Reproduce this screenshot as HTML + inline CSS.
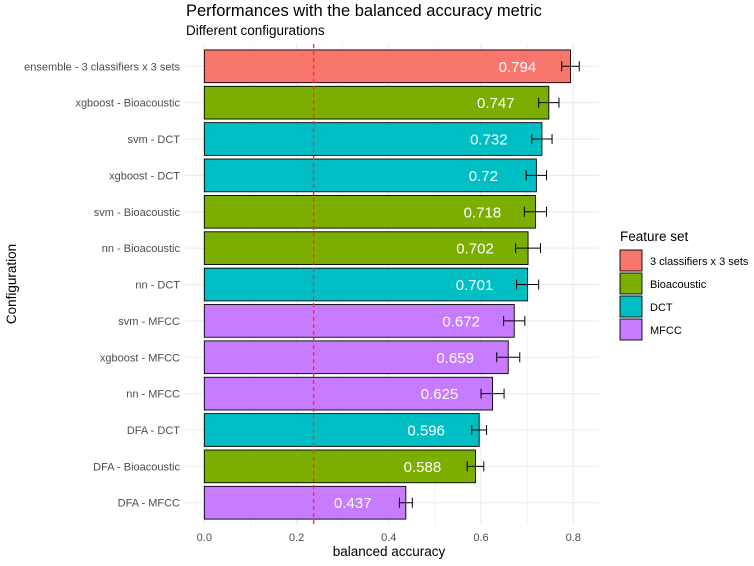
<!DOCTYPE html>
<html><head><meta charset="utf-8"><style>
body{margin:0;background:#fff;}
svg text{font-family:"Liberation Sans",Arial,sans-serif;}
</style></head><body>
<svg id="c" width="754" height="561" xmlns="http://www.w3.org/2000/svg">
<text x="186" y="16" font-size="16.5" fill="#000">Performances with the balanced accuracy metric</text>
<text x="186" y="35" font-size="13.5" fill="#000">Different configurations</text>
<g id="grid"></g><g id="bars"></g><g id="labels"></g>
<text x="389" y="556" font-size="13.5" text-anchor="middle" fill="#000">balanced accuracy</text>
<text transform="translate(16,284) rotate(-90)" font-size="13.5" text-anchor="middle" fill="#000">Configuration</text>
<text x="620" y="241" font-size="13.5" fill="#000">Feature set</text>
<g id="legend"></g>
</svg>
<script>
const categories=["ensemble - 3 classifiers x 3 sets","xgboost - Bioacoustic","svm - DCT","xgboost - DCT","svm - Bioacoustic","nn - Bioacoustic","nn - DCT","svm - MFCC","xgboost - MFCC","nn - MFCC","DFA - DCT","DFA - Bioacoustic","DFA - MFCC"];
const values=[0.794,0.747,0.732,0.72,0.718,0.702,0.701,0.672,0.659,0.625,0.596,0.588,0.437];
const errors=[0.019,0.022,0.022,0.022,0.024,0.027,0.024,0.023,0.025,0.025,0.016,0.018,0.014];
const featureSets=["3 classifiers x 3 sets","Bioacoustic","DCT","DCT","Bioacoustic","Bioacoustic","DCT","MFCC","MFCC","MFCC","DCT","Bioacoustic","MFCC"];
const legendEntries=["3 classifiers x 3 sets","Bioacoustic","DCT","MFCC"];
const colors={"3 classifiers x 3 sets":"#F8766D","Bioacoustic":"#7CAE00","DCT":"#00BFC4","MFCC":"#C77CFF"};
const xTicks=[0,0.2,0.4,0.6,0.8];
const xTickLabels=["0.0","0.2","0.4","0.6","0.8"];
const threshold=0.237;
const NS="http://www.w3.org/2000/svg";
const x=v=>204.3+v*461.2;
const band=36.37, y0=66.3;
const yc=i=>y0+i*band;
const pTop=44,pBottom=525,pLeft=185,pRight=599;
function mk(tag,attrs,parent){const e=document.createElementNS(NS,tag);for(const k in attrs)e.setAttribute(k,attrs[k]);document.getElementById(parent).appendChild(e);return e;}
for(let v=0;v<=0.85;v+=0.1){const g=mk('line',{x1:x(v),x2:x(v),y1:pTop,y2:pBottom,stroke:'#ebebeb','stroke-width':0.6},'grid');

}
xTicks.forEach((t,i)=>{const g=mk('line',{x1:x(t),x2:x(t),y1:pTop,y2:pBottom,stroke:'#ebebeb','stroke-width':1.1},'grid');


const tl=mk('text',{x:x(t),y:541,'font-size':11,'text-anchor':'middle',fill:'#4d4d4d'},'labels');tl.textContent=xTickLabels[i];

});
categories.forEach((c,i)=>{const g=mk('line',{x1:pLeft,x2:pRight,y1:yc(i),y2:yc(i),stroke:'#ebebeb','stroke-width':1.1},'grid');


const h=band*0.9;
const r=mk('rect',{x:x(0),y:yc(i)-h/2,width:x(values[i])-x(0),height:h,fill:colors[featureSets[i]],stroke:'#000','stroke-width':0.9},'bars');


const lo=x(values[i]-errors[i]),hi=x(values[i]+errors[i]),yy=yc(i);
const eb=mk('path',{d:`M${lo},${yy}H${hi}M${lo},${yy-5}V${yy+5}M${hi},${yy-5}V${yy+5}`,stroke:'#000','stroke-width':1,fill:'none'},'bars');


const vt=mk('text',{x:x(values[i]-0.115),y:yy+5.5,'font-size':15,'text-anchor':'middle',fill:'#fff'},'labels');vt.textContent=String(values[i]);


const yl=mk('text',{x:180,y:yy+4,'font-size':11,'text-anchor':'end',fill:'#4d4d4d'},'labels');yl.textContent=c;

});
const th=mk('line',{x1:x(threshold),x2:x(threshold),y1:pTop,y2:pBottom,stroke:'#FF2A3A','stroke-width':1.4,'stroke-dasharray':'4,3'},'labels');


legendEntries.forEach((e,i)=>{const yy=250+i*23;
const k=mk('rect',{x:620,y:yy,width:22,height:21,fill:colors[e],stroke:'#000','stroke-width':0.9},'legend');


const t=mk('text',{x:650,y:yy+15,'font-size':11,fill:'#000'},'legend');t.textContent=e;

});
</script>
</body></html>
